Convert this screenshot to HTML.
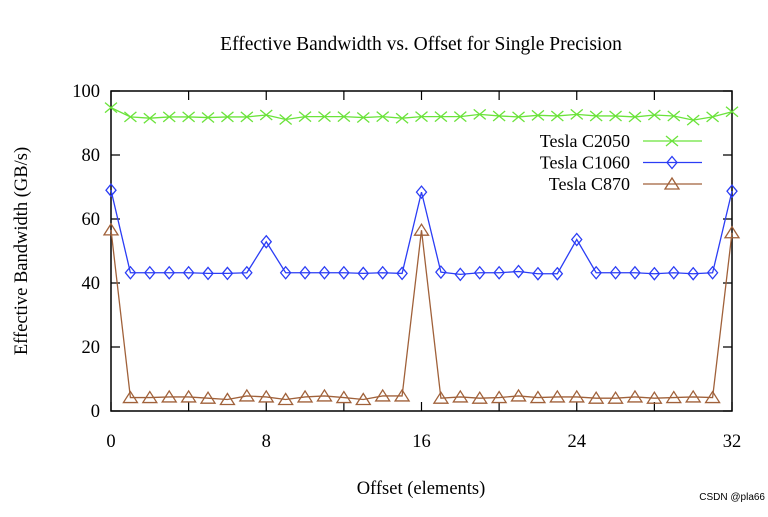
<!DOCTYPE html>
<html><head><meta charset="utf-8"><style>
body{margin:0;background:#fff;}
svg text{font-family:"Liberation Serif",serif;fill:#000;}
</style></head><body>
<svg id="chart" width="768" height="512" viewBox="0 0 768 512" xmlns="http://www.w3.org/2000/svg">
<text x="421" y="50" font-size="19.5" text-anchor="middle">Effective Bandwidth vs. Offset for Single Precision</text>
<text x="0" y="0" font-size="18.5" text-anchor="middle" transform="translate(27,251) rotate(-90)">Effective Bandwidth (GB/s)</text>
<text x="421" y="494" font-size="18.5" text-anchor="middle">Offset (elements)</text>
<rect x="111" y="91" width="621" height="320" fill="none" stroke="#000" stroke-width="1.5"/>
<g id="axes"></g>
<g id="series"></g>
<g id="legend"></g>
<text x="765" y="500" font-size="10" text-anchor="end" style="font-family:'Liberation Sans',sans-serif" fill="#666">CSDN @pla66</text>
</svg>
<script>
const offsets = [0,1,2,3,4,5,6,7,8,9,10,11,12,13,14,15,16,17,18,19,20,21,22,23,24,25,26,27,28,29,30,31,32];
const c2050 = [94.8,91.9,91.5,91.9,91.9,91.7,91.9,91.9,92.5,91.1,92.0,92.0,92.0,91.7,92.0,91.5,92.0,92.0,92.0,92.7,92.2,91.9,92.4,92.2,92.7,92.2,92.2,91.9,92.5,92.2,90.9,91.9,93.5];
const c1060 = [69.0,43.2,43.2,43.2,43.2,43.0,43.0,43.2,52.9,43.2,43.2,43.2,43.2,43.0,43.2,43.0,68.4,43.4,42.7,43.2,43.2,43.6,42.9,42.9,53.6,43.2,43.2,43.2,42.9,43.2,42.9,43.2,68.7];
const c870 = [56.6,4.2,4.2,4.4,4.4,4.0,3.6,4.7,4.4,3.6,4.4,4.7,4.2,3.6,4.7,4.7,56.5,4.0,4.4,4.0,4.2,4.7,4.2,4.4,4.4,4.0,4.0,4.4,4.0,4.2,4.4,4.2,55.7];
const yTicks = [0,20,40,60,80,100];
const xTicks = [0,8,16,24,32];
const xMinorTicks = [4,12,20,28];
const NS = "http://www.w3.org/2000/svg";
const X0=111, X1=732, Y0=411, Y1=91;
function sx(v){return X0+(v-0)/(32-0)*(X1-X0);}
function sy(v){return Y0-(v-0)/(100-0)*(Y0-Y1);}
function mk(tag,attrs,parent){const e=document.createElementNS(NS,tag);for(const k in attrs)e.setAttribute(k,attrs[k]);parent.appendChild(e);return e;}
const axes=document.getElementById('axes');
yTicks.forEach(t=>{
  const y=sy(t);
  const l=mk('path',{d:`M${X0} ${y}h9M${X1} ${y}h-9`,stroke:'#000','stroke-width':1.2},axes);
  
  
  const tx=mk('text',{x:100,y:y+6,'font-size':18.5,'text-anchor':'end'},axes);
  tx.textContent=t;
  
  
});
xTicks.concat(xMinorTicks).forEach(t=>{
  const x=sx(t);
  const l=mk('path',{d:`M${x} ${Y0}v-9M${x} ${Y1}v9`,stroke:'#000','stroke-width':1.2},axes);
  
  
});
xTicks.forEach(t=>{
  const tx=mk('text',{x:sx(t),y:447,'font-size':18.5,'text-anchor':'middle'},axes);
  tx.textContent=t;
  
  
});
function marker(type,x,y,color,parent){
  let d;
  if(type==='x') d=`M${x-6} ${y-5}L${x+6} ${y+5}M${x-6} ${y+5}L${x+6} ${y-5}`;
  else if(type==='d') d=`M${x} ${y-6}L${x+5} ${y}L${x} ${y+6}L${x-5} ${y}Z`;
  else d=`M${x} ${y-6}L${x+7} ${y+5}L${x-7} ${y+5}Z`;
  const p=mk('path',{d:d,stroke:color,'stroke-width':1.3,fill:'none'},parent);
  
  
}
const series=[
  {name:'Tesla C2050',vals:c2050,color:'#6be33b',m:'x',key:'c2050'},
  {name:'Tesla C1060',vals:c1060,color:'#2b3df5',m:'d',key:'c1060'},
  {name:'Tesla C870',vals:c870,color:'#a0613a',m:'t',key:'c870'}
];
const sg=document.getElementById('series'), lg=document.getElementById('legend');
series.forEach((s,i)=>{
  const g=mk('g',{},sg);
  
  
  const pts=s.vals.map((v,j)=>sx(offsets[j])+','+sy(v)).join(' ');
  const pl=mk('polyline',{points:pts,fill:'none',stroke:s.color,'stroke-width':1.3},g);
  
  
  s.vals.forEach((v,j)=>marker(s.m,sx(offsets[j]),sy(v),s.color,g));
  const ly=141+i*21.5;
  const le=mk('g',{},lg);
  
  
  const t=mk('text',{x:630,y:ly+6,'font-size':18,'text-anchor':'end'},le);
  t.textContent=s.name;
  mk('line',{x1:643,y1:ly,x2:702,y2:ly,stroke:s.color,'stroke-width':1.3},le);
  marker(s.m,672,ly,s.color,le);
});
</script>
</body></html>
